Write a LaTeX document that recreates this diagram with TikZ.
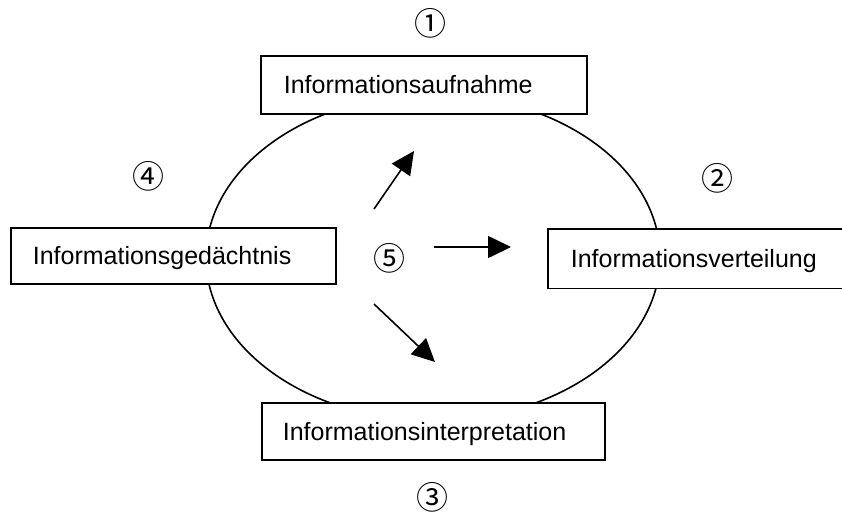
\documentclass[tikz,border=0pt]{standalone}
\usepackage{fontspec}
\setmainfont{Liberation Sans}
\newfontfamily\circfont{Noto Sans CJK JP}
\usetikzlibrary{arrows.meta}
\begin{document}
\begin{tikzpicture}[x=1pt,y=-1pt,
  stage/.style={draw=black, line width=1.6pt, fill=white, rectangle,
    font=\fontsize{25}{30}\selectfont, text height=18pt, text depth=0pt,
    align=left, anchor=north west, inner ysep=0pt},
  openstage/.style={stage, draw=none},
  marker/.style={font=\circfont\fontsize{32}{32}\selectfont, inner sep=0pt},
  flow/.style={line width=1.6pt, -{Triangle[length=23pt,width=22pt]}}]
\useasboundingbox (0,0) rectangle (842,517);
\clip (0,0) rectangle (842,517);
\fill[white] (0,0) rectangle (842,517);

% the cycle
\draw[line width=1.6pt] (433,257.5) ellipse [x radius=227, y radius=163];

% the four stages
\node[stage, minimum width=326pt, minimum height=58pt, inner xsep=23pt, text width=280pt]
  (aufnahme) at (260,55) {Informationsaufnahme};
\node[stage, minimum width=325pt, minimum height=56pt, inner xsep=22pt, text width=281pt]
  (gedaechtnis) at (10,227) {Informationsgedächtnis};
\node[stage, minimum width=343pt, minimum height=57pt, inner xsep=21pt, text width=301pt]
  (interpretation) at (261,402) {Informationsinterpretation};
\node[openstage, minimum width=320pt, minimum height=58pt, inner xsep=22pt, text width=276pt]
  (verteilung) at (548,229) {Informationsverteilung};
\draw[line width=1.6pt] (verteilung.north east) -- (verteilung.north west)
  -- (verteilung.south west) -- (verteilung.south east);

% step numbers
\node[marker] (n1) at (430,23) {①};
\node[marker] (n2) at (717,178) {②};
\node[marker] (n3) at (432,497) {③};
\node[marker] (n4) at (148,176) {④};
\node[marker] (n5) at (389,258) {⑤};

% arrows from the centre
\coordinate (a1s) at (374,209); \coordinate (a1e) at (414,151);
\coordinate (a2s) at (434,247); \coordinate (a2e) at (511,247);
\coordinate (a3s) at (374,304); \coordinate (a3e) at (435,362);
\draw[flow] (a1s) -- (a1e);
\draw[flow] (a2s) -- (a2e);
\draw[flow] (a3s) -- (a3e);
\end{tikzpicture}
\end{document}
